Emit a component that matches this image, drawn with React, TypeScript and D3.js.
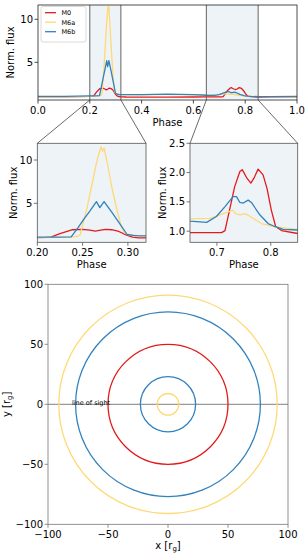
import React from 'react'
import * as d3 from 'd3'

// light curves (phase, normalised flux)
const m0Phase = [0, 0.1, 0.2, 0.21, 0.215, 0.225, 0.239, 0.25, 0.258, 0.264, 0.27, 0.2755, 0.282, 0.29, 0.298, 0.305, 0.312, 0.32, 0.34, 0.4, 0.5, 0.6, 0.65, 0.7086, 0.715, 0.733, 0.7426, 0.747, 0.756, 0.763, 0.7685, 0.7765, 0.7857, 0.793, 0.801, 0.809, 0.82, 0.85, 0.9, 1.0]
const m0Flux = [1.0, 1.0, 1.05, 1.07, 1.1, 1.5, 1.95, 2.0, 1.9, 1.8, 1.9, 2.0, 1.95, 1.75, 1.35, 1.1, 1.02, 1.0, 0.97, 0.96, 0.96, 0.97, 0.975, 0.975, 1.01, 1.76, 2.02, 2.05, 1.9, 1.82, 1.9, 2.06, 1.96, 1.73, 1.36, 1.08, 1.01, 0.96, 0.98, 1.0]

const m6aPhase = [0, 0.1, 0.2, 0.235, 0.245, 0.2475, 0.25, 0.255, 0.26, 0.265, 0.268, 0.2705, 0.272, 0.2737, 0.277, 0.282, 0.288, 0.293, 0.296, 0.3, 0.31, 0.32, 0.4, 0.5, 0.6, 0.65, 0.687, 0.7055, 0.721, 0.729, 0.7364, 0.7438, 0.7518, 0.76, 0.7827, 0.804, 0.829, 0.85, 0.9, 1.0]
const m6aFlux = [1.0, 1.0, 1.05, 1.1, 1.2, 1.4, 2.5, 4.5, 7.0, 9.5, 10.8, 11.5, 11.0, 11.4, 9.8, 7.0, 4.2, 2.2, 1.6, 1.4, 1.3, 1.25, 1.22, 1.25, 1.23, 1.21, 1.22, 1.28, 1.33, 1.36, 1.29, 1.28, 1.3, 1.26, 1.13, 1.08, 1.05, 1.03, 1.02, 1.0]

const m6bPhase = [0, 0.1, 0.2, 0.22, 0.2374, 0.245, 0.252, 0.258, 0.2653, 0.269, 0.2737, 0.282, 0.29, 0.2992, 0.306, 0.312, 0.32, 0.4, 0.5, 0.6, 0.65, 0.681, 0.699, 0.715, 0.73, 0.7364, 0.7426, 0.749, 0.758, 0.764, 0.7796, 0.795, 0.8073, 0.8228, 0.85, 0.9, 1.0]
const m6bFlux = [1.05, 1.05, 1.1, 1.1, 1.12, 2.2, 3.25, 4.1, 5.2, 4.5, 5.2, 4.0, 2.8, 1.4, 1.3, 1.25, 1.25, 1.25, 1.3, 1.25, 1.17, 1.15, 1.25, 1.42, 1.59, 1.59, 1.49, 1.48, 1.53, 1.49, 1.28, 1.13, 1.08, 1.03, 1.02, 1.02, 1.05]

const seriesNames = ['M0', 'M6a', 'M6b']
const seriesColors = ['#e31a1c', '#fed976', '#3182bd']

// zoom windows
const zoomWindows = [[0.2, 0.32], [0.65, 0.85]]

// ring radii (r_g) and which model colour they use
const ringRadii = [91, 77, 50, 23, 9]
const ringColorIdx = [1, 2, 0, 2, 1]

const mainXTicks = [0, 0.2, 0.4, 0.6, 0.8, 1.0]
const mainYTicks = [5, 10]
const inset1XTicks = [0.2, 0.25, 0.3]
const inset1YTicks = [5, 10]
const inset2XTicks = [0.7, 0.8]
const inset2YTicks = [1.0, 1.5, 2.0, 2.5]
const orbitTicks = [-100, -50, 0, 50, 100]

const FONT = 'DejaVu Sans, sans-serif'
const SHADE = '#eef3f8'

const series = [
  { phase: m0Phase, flux: m0Flux },
  { phase: m6aPhase, flux: m6aFlux },
  { phase: m6bPhase, flux: m6bFlux }
]

const fmt = (v: number) => (v < 0 ? '\u2212' + Math.abs(v) : String(v))

type Scale = d3.ScaleLinear<number, number>

interface PanelProps {
  id: string
  x0: number
  x1: number
  y0: number
  y1: number
  xDomain: [number, number]
  yDomain: [number, number]
  xTicks: number[]
  yTicks: number[]
  xFmt: (v: number) => string
  yFmt: (v: number) => string
  bg?: string
  plot?: (x: Scale, y: Scale) => React.ReactNode
  over?: (x: Scale, y: Scale) => React.ReactNode
  xLabel: React.ReactNode
  yLabel: React.ReactNode
  xLabelY: number
  yLabelX: number
  tickLabelY: number
  spine?: string
}

const Panel: React.FC<PanelProps> = (p) => {
  const x = d3.scaleLinear().domain(p.xDomain).range([p.x0, p.x1])
  const y = d3.scaleLinear().domain(p.yDomain).range([p.y1, p.y0])
  const spine = p.spine || '#222'
  return (
    <g>
      <defs>
        <clipPath id={p.id}>
          <rect x={p.x0} y={p.y0} width={p.x1 - p.x0} height={p.y1 - p.y0} />
        </clipPath>
      </defs>
      <rect x={p.x0} y={p.y0} width={p.x1 - p.x0} height={p.y1 - p.y0} fill={p.bg || 'white'} />
      <g clipPath={`url(#${p.id})`}>{p.plot && p.plot(x, y)}</g>
      <rect x={p.x0} y={p.y0} width={p.x1 - p.x0} height={p.y1 - p.y0} fill="none" stroke={spine} strokeWidth={0.8} />
      {p.xTicks.map((t) => (
        <g key={'x' + t}>
          <line x1={x(t)} x2={x(t)} y1={p.y1} y2={p.y1 + 3.5} stroke={spine} strokeWidth={0.8} />
          <text x={x(t)} y={p.tickLabelY} textAnchor="middle" fontSize={10} fontFamily={FONT}>{p.xFmt(t)}</text>
        </g>
      ))}
      {p.yTicks.map((t) => (
        <g key={'y' + t}>
          <line x1={p.x0 - 3.5} x2={p.x0} y1={y(t)} y2={y(t)} stroke={spine} strokeWidth={0.8} />
          <text x={p.x0 - 5} y={y(t) + 3.6} textAnchor="end" fontSize={10} fontFamily={FONT}>{p.yFmt(t)}</text>
        </g>
      ))}
      {p.over && p.over(x, y)}
      <text x={(p.x0 + p.x1) / 2} y={p.xLabelY} textAnchor="middle" fontSize={10} fontFamily={FONT}>{p.xLabel}</text>
      <text transform={`translate(${p.yLabelX},${(p.y0 + p.y1) / 2}) rotate(-90)`} textAnchor="middle" fontSize={10} fontFamily={FONT}>{p.yLabel}</text>
    </g>
  )
}

const curves = (x: Scale, y: Scale) =>
  series.map((s, i) => {
    const pts = s.phase.map((ph, k) => [x(ph), y(s.flux[k])] as [number, number])
    return (
      <path key={i} d={d3.line()(pts) || ''} fill="none" stroke={seriesColors[i]} strokeWidth={1.3} strokeLinejoin="round" />
    )
  })

export default function App() {
  const main = { x0: 38, x1: 297, y0: 5, y1: 100 }
  const in1 = { x0: 37.3, x1: 146, y0: 143.3, y1: 242.3 }
  const in2 = { x0: 190, x1: 297.7, y0: 143.3, y1: 242.3 }
  const orb = { x0: 48, x1: 288, y0: 284.3, y1: 524.3 }
  const mx = d3.scaleLinear().domain([0, 1]).range([main.x0, main.x1])
  const insets = [in1, in2]

  return (
    <svg width={307} height={554} style={{ position: 'absolute', left: 0, top: 0, background: 'white' }}>
      <Panel
        id="c-main" {...main} xDomain={[0, 1]} yDomain={[0.62, 11.66]}
        xTicks={mainXTicks} yTicks={mainYTicks} xFmt={(v) => v.toFixed(1)} yFmt={(v) => String(v)}
        xLabel="Phase" yLabel="Norm. flux" xLabelY={125.5} yLabelX={14} tickLabelY={114}
        plot={(x, y) => (
          <g>
            {zoomWindows.map((w, i) => (
              <rect key={i} x={x(w[0])} y={main.y0} width={x(w[1]) - x(w[0])} height={main.y1 - main.y0} fill={SHADE} />
            ))}
            {curves(x, y)}
            {zoomWindows.map((w, i) => (
              <g key={'l' + i}>
                <line x1={x(w[0])} x2={x(w[0])} y1={main.y0} y2={main.y1} stroke="#666" strokeWidth={1} />
                <line x1={x(w[1])} x2={x(w[1])} y1={main.y0} y2={main.y1} stroke="#666" strokeWidth={1} />
              </g>
            ))}
          </g>
        )}
        over={() => (
          <g fontFamily={FONT} fontSize={6.5}>
            <rect x={41} y={6.5} width={45} height={35.5} rx={2} fill="white" fillOpacity={0.85} stroke="#d0d0d0" strokeWidth={0.8} />
            {seriesNames.map((n, i) => (
              <g key={n}>
                <line x1={45} x2={56} y1={12.7 + i * 9.5} y2={12.7 + i * 9.5} stroke={seriesColors[i]} strokeWidth={1.3} />
                <text x={61.5} y={12.7 + i * 9.5 + 2.3}>{n}</text>
              </g>
            ))}
          </g>
        )}
      />

      {/* connectors from the zoom windows to the insets */}
      {zoomWindows.map((w, i) => (
        <g key={'c' + i} stroke="#444" strokeWidth={0.8}>
          <line x1={mx(w[0])} y1={main.y1} x2={insets[i].x0} y2={insets[i].y0} />
          <line x1={mx(w[1])} y1={main.y1} x2={insets[i].x1} y2={insets[i].y0} />
        </g>
      ))}

      <Panel
        id="c-in1" {...in1} xDomain={[0.2, 0.32]} yDomain={[0.5, 11.93]} bg={SHADE} spine="#555"
        xTicks={inset1XTicks} yTicks={inset1YTicks} xFmt={(v) => v.toFixed(2)} yFmt={(v) => String(v)}
        xLabel="Phase" yLabel="Norm. flux" xLabelY={268} yLabelX={16.5} tickLabelY={256}
        plot={curves}
      />
      <Panel
        id="c-in2" {...in2} xDomain={[0.65, 0.85]} yDomain={[0.81, 2.5]} bg={SHADE} spine="#555"
        xTicks={inset2XTicks} yTicks={inset2YTicks} xFmt={(v) => v.toFixed(1)} yFmt={(v) => v.toFixed(1)}
        xLabel="Phase" yLabel="Norm. flux" xLabelY={268} yLabelX={165.5} tickLabelY={256}
        plot={curves}
      />

      <Panel
        id="c-orb" {...orb} xDomain={[-100, 100]} yDomain={[-100, 100]} spine="#777"
        xTicks={orbitTicks} yTicks={orbitTicks} xFmt={fmt} yFmt={fmt}
        xLabel={<>x [r<tspan fontSize={7} dy={2}>g</tspan><tspan dy={-2}>]</tspan></>}
        yLabel={<>y [r<tspan fontSize={7} dy={2}>g</tspan><tspan dy={-2}>]</tspan></>}
        xLabelY={549} yLabelX={10} tickLabelY={538}
        plot={(x, y) => (
          <g>
            <line x1={x(-100)} x2={x(100)} y1={y(0)} y2={y(0)} stroke="#999" strokeWidth={1.2} />
            {ringRadii.map((r, i) => (
              <circle key={i} cx={x(0)} cy={y(0)} r={x(r) - x(0)} fill="none" stroke={seriesColors[ringColorIdx[i]]} strokeWidth={1.3} />
            ))}
            <text x={x(-80)} y={y(0) + 0.5} fontSize={6.5} fontFamily={FONT}>line of sight</text>
          </g>
        )}
      />
    </svg>
  )
}
